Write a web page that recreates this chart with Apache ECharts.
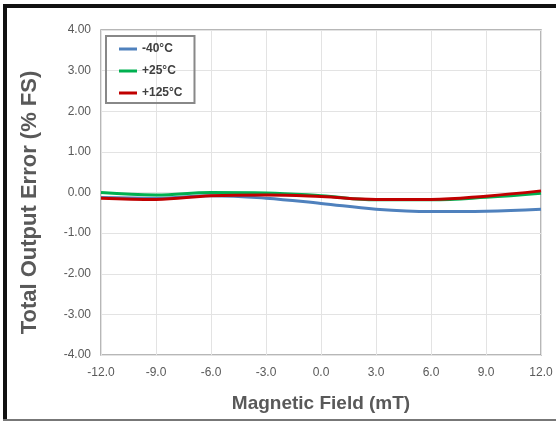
<!DOCTYPE html>
<html><head><meta charset="utf-8">
<script src="https://cdn.jsdelivr.net/npm/echarts@6/dist/echarts.min.js"></script>
<style>html,body{margin:0;padding:0;background:#fff}#c{width:556px;height:421px}</style>
</head><body><div id="c"></div>
<script>
const fieldX = [-12, -9, -6, -3, 0, 3, 6, 9, 12];
const seriesNames = ['-40°C', '+25°C', '+125°C'];
const errM40 = [-0.12, -0.14, -0.08, -0.14, -0.27, -0.41, -0.47, -0.46, -0.41];
const errP25 = [0.00, -0.06, 0.00, -0.01, -0.08, -0.18, -0.18, -0.12, -0.02];
const errP125 = [-0.14, -0.17, -0.08, -0.06, -0.10, -0.17, -0.17, -0.09, 0.04];
const colors = ['#4F81BD', '#00B050', '#C00000'];
const allData = [errM40, errP25, errP125];

const chart = echarts.init(document.getElementById('c'), null, {renderer: 'canvas'});
const font = 'Liberation Sans, Arial, sans-serif';
chart.setOption({
  animation: false,
  backgroundColor: '#fff',
  color: colors,
  grid: {left: 101, right: 15, top: 30, bottom: 66, show: true, borderColor: '#a0a0a0', borderWidth: 1.5},
  legend: {
    orient: 'vertical', left: 106, top: 36,
    data: seriesNames,
    icon: 'rect', itemWidth: 18, itemHeight: 3, itemGap: 8,
    padding: [6, 12, 3, 13],
    borderColor: '#888', borderWidth: 2,
    textStyle: {fontFamily: font, fontSize: 12, fontWeight: 'bold', color: '#404040', lineHeight: 14, padding: [0,0,0,0]}
  },
  xAxis: {
    type: 'value', min: -12, max: 12, interval: 3,
    name: 'Magnetic Field (mT)', nameLocation: 'middle', nameGap: 39,
    nameTextStyle: {fontFamily: font, fontSize: 19, fontWeight: 'bold', color: '#595959'},
    axisLine: {show: false}, axisTick: {show: false},
    axisLabel: {fontFamily: font, fontSize: 12, color: '#595959', margin: 12, formatter: v => v.toFixed(1)},
    splitLine: {show: true, lineStyle: {color: '#e3e3e3', width: 1}}
  },
  yAxis: {
    type: 'value', min: -4, max: 4, interval: 1,
    name: 'Total Output Error (% FS)', nameLocation: 'middle', nameGap: 60,
    nameTextStyle: {fontFamily: font, fontSize: 22, fontWeight: 'bold', color: '#595959', padding: [0, 20, 0, 0]},
    axisLine: {show: false}, axisTick: {show: false},
    axisLabel: {fontFamily: font, fontSize: 12, color: '#595959', margin: 10, formatter: v => v.toFixed(2)},
    splitLine: {show: true, lineStyle: {color: '#e3e3e3', width: 1}}
  },
  series: seriesNames.map((n, i) => ({
    name: n, type: 'line', smooth: 0.4, showSymbol: false,
    data: fieldX.map((x, j) => [x, allData[i][j]]),
    lineStyle: {width: 3, color: colors[i]},
    itemStyle: {color: colors[i]},
    z: 3 + i
  })),
  graphic: [
    {type: 'rect', shape: {x: 3, y: 4, width: 553, height: 4}, style: {fill: '#111'}},
    {type: 'rect', shape: {x: 3, y: 4, width: 4, height: 417}, style: {fill: '#111'}},
    {type: 'rect', shape: {x: 3, y: 419, width: 553, height: 2}, style: {fill: '#777'}}
  ]
});
</script></body></html>
